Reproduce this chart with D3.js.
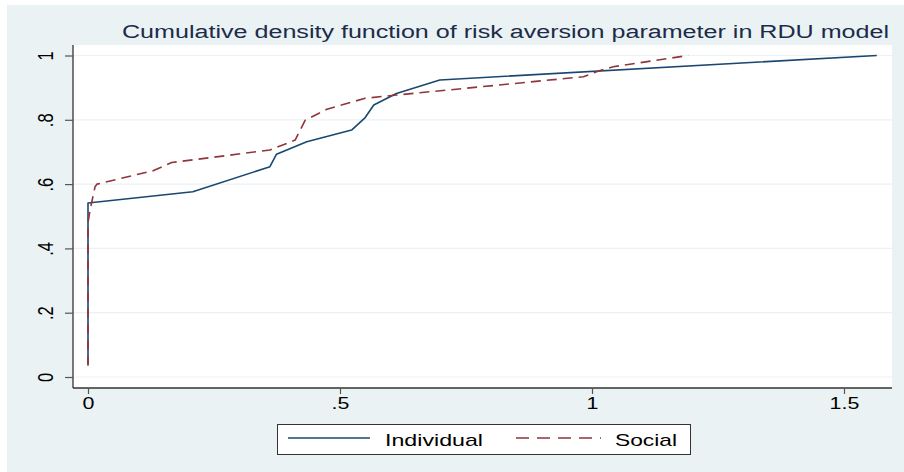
<!DOCTYPE html>
<html><head><meta charset="utf-8">
<script src="https://cdn.jsdelivr.net/npm/d3@7"></script>
<style>body{margin:0;background:#fff;} text{font-family:"Liberation Sans",Arial,Helvetica,sans-serif;}</style>
</head><body>
<svg id="chart" width="904" height="472"></svg>
<script>
const titleText = "Cumulative density function of risk aversion parameter in RDU model";
const seriesNames = ["Individual", "Social"];
const individualX = [0, 0, 0.208, 0.361, 0.374, 0.434, 0.523, 0.55, 0.567, 0.612, 0.698, 1.565];
const individualY = [0.04, 0.541, 0.576, 0.654, 0.693, 0.732, 0.768, 0.807, 0.846, 0.882, 0.924, 1.0];
const socialX = [0, 0, 0.004, 0.014, 0.018, 0.13, 0.166, 0.361, 0.411, 0.421, 0.431, 0.474, 0.55, 0.612, 0.983, 1.016, 1.042, 1.191];
const socialY = [0.035, 0.48, 0.519, 0.592, 0.600, 0.642, 0.667, 0.706, 0.737, 0.768, 0.799, 0.833, 0.867, 0.877, 0.934, 0.953, 0.965, 1.0];
const xTicks = [0, 0.5, 1, 1.5];
const xTickLabels = ["0", ".5", "1", "1.5"];
const yTicks = [0, 0.2, 0.4, 0.6, 0.8, 1];
const yTickLabels = ["0", ".2", ".4", ".6", ".8", "1"];

const svg = d3.select("#chart");
const bg = "#eaf2f3";
const navy = "#1a476f", maroon = "#90353b";
const SX = 1.3; // horizontal text stretch

svg.append("rect").attr("x", 7).attr("y", 5).attr("width", 897).attr("height", 467).attr("fill", bg);

const pl = 73, pr = 892, pt = 45, pb = 388;
svg.append("rect").attr("x", pl).attr("y", pt).attr("width", pr - pl).attr("height", pb - pt).attr("fill", "#fff");

const x = d3.scaleLinear().domain([0, 1.5]).range([88, 844]);
const y = d3.scaleLinear().domain([0, 1]).range([377, 55.5]);

// gridlines
svg.append("g").selectAll("line").data(yTicks).join("line")
  .attr("x1", pl).attr("x2", pr).attr("y1", d => y(d)).attr("y2", d => y(d))
  .attr("stroke", bg).attr("stroke-width", 1.2);

// lines
const line = d3.line().x(d => x(d[0])).y(d => y(d[1]));
const indData = individualX.map((v, i) => [v, individualY[i]]);
const socData = socialX.map((v, i) => [v, socialY[i]]);
svg.append("path").datum(indData).attr("d", line).attr("fill", "none")
  .attr("stroke", navy).attr("stroke-width", 1.6).attr("stroke-linejoin", "round");
svg.append("path").datum(socData).attr("d", line).attr("fill", "none")
  .attr("stroke", maroon).attr("stroke-width", 1.6).attr("stroke-dasharray", "10,6").attr("stroke-linejoin", "round");

// axes
const yAxis = d3.axisLeft(y).tickValues(yTicks).tickFormat((d, i) => yTickLabels[i]).tickSize(8).tickSizeOuter(0);
const gy = svg.append("g").attr("transform", `translate(${pl},0)`).call(yAxis);
gy.select(".domain").attr("d", `M0,${pt}V${pb}`).attr("stroke", "#333").attr("stroke-width", 1.3);
gy.selectAll(".tick line").attr("stroke", "#555").attr("stroke-width", 1.2);
gy.selectAll(".tick text").attr("x", null).attr("dy", null).attr("y", 0)
  .attr("text-anchor", "middle").attr("font-size", 16.5).attr("fill", "#000")
  .attr("transform", `translate(-20,0) scale(${SX},1) rotate(-90)`);

const xAxis = d3.axisBottom(x).tickValues(xTicks).tickFormat((d, i) => xTickLabels[i]).tickSize(6).tickSizeOuter(0);
const gx = svg.append("g").attr("transform", `translate(0,${pb})`).call(xAxis);
gx.select(".domain").attr("d", `M${pl},0H${pr}`).attr("stroke", "#333").attr("stroke-width", 1.3);
gx.selectAll(".tick line").attr("stroke", "#555").attr("stroke-width", 1.2);
gx.selectAll(".tick text").attr("dy", null).attr("y", 21)
  .attr("font-size", 16.5).attr("fill", "#000")
  .attr("transform", `scale(${SX},1)`);

// title
svg.append("text").attr("x", 122).attr("y", 38).attr("font-size", 18).attr("fill", "#1c2b4a")
  .attr("textLength", 767).attr("lengthAdjust", "spacingAndGlyphs").text(titleText);

// legend
const lg = svg.append("g");
lg.append("rect").attr("x", 277.5).attr("y", 424.5).attr("width", 413).attr("height", 30)
  .attr("fill", "#fff").attr("stroke", "#333").attr("stroke-width", 1);
lg.append("line").attr("x1", 288).attr("x2", 370).attr("y1", 438).attr("y2", 438)
  .attr("stroke", navy).attr("stroke-width", 1.6);
lg.append("line").attr("x1", 516).attr("x2", 601).attr("y1", 438).attr("y2", 438)
  .attr("stroke", maroon).attr("stroke-width", 1.6).attr("stroke-dasharray", "13,8");
lg.append("text").attr("x", 385).attr("y", 446).attr("font-size", 17).attr("fill", "#000")
  .attr("textLength", 98).attr("lengthAdjust", "spacingAndGlyphs").text(seriesNames[0]);
lg.append("text").attr("x", 615).attr("y", 446).attr("font-size", 17).attr("fill", "#000")
  .attr("textLength", 62).attr("lengthAdjust", "spacingAndGlyphs").text(seriesNames[1]);
</script>
</body></html>
